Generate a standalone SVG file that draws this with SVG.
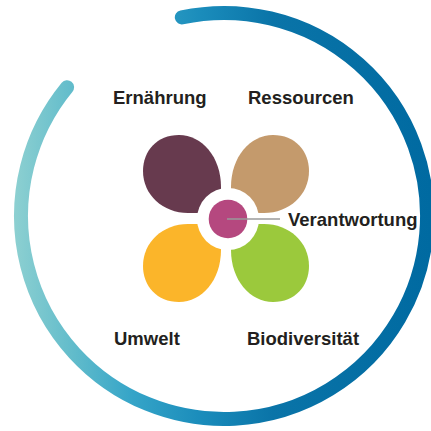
<svg xmlns="http://www.w3.org/2000/svg" width="431" height="431" viewBox="0 0 431 431">
  <defs>
    <linearGradient id="ringGrad" gradientUnits="userSpaceOnUse" x1="14" y1="216" x2="431" y2="216">
      <stop offset="0" stop-color="#8dd0d1"/>
      <stop offset="0.14" stop-color="#62bccb"/>
      <stop offset="0.28" stop-color="#36a5c8"/>
      <stop offset="0.45" stop-color="#1a8cbb"/>
      <stop offset="0.62" stop-color="#0a74a8"/>
      <stop offset="1" stop-color="#006aa1"/>
    </linearGradient>
    <path id="petal" d="M0,0 L0,-26 C0,-56 -19,-78 -42,-78 C-64,-78 -78,-62 -78,-42 C-78,-18 -58,0 -33,0 Z"/>
  </defs>
  <style>
    .label { font-family: "Liberation Sans", Arial, sans-serif; font-weight: bold; font-size: 18.5px; fill: #231f20; }
    .ring { fill: none; stroke: url(#ringGrad); stroke-width: 14; stroke-linecap: round; }
    .leader { stroke: #9a9a9a; stroke-width: 1.6; fill: none; }
  </style>
  <rect width="431" height="431" fill="#ffffff"/>
  <path class="ring" d="M181.8,17.4 A203,203 0 1 1 67.1,87.2"/>
  <g id="ernaehrung">
    <use href="#petal" transform="translate(221,213)" fill="#673a4e"/>
    <text class="label" x="113" y="104">Ernährung</text>
  </g>
  <g id="ressourcen">
    <use href="#petal" transform="translate(231,213) scale(-1,1)" fill="#c49a6c"/>
    <text class="label" x="248" y="104">Ressourcen</text>
  </g>
  <g id="umwelt">
    <use href="#petal" transform="translate(221,224) scale(1,-1)" fill="#fbb52a"/>
    <text class="label" x="114" y="345">Umwelt</text>
  </g>
  <g id="biodiversitaet">
    <use href="#petal" transform="translate(231,224) scale(-1,-1)" fill="#9bc93c"/>
    <text class="label" x="247" y="345">Biodiversität</text>
  </g>
  <g id="verantwortung">
    <circle cx="228" cy="219" r="31" fill="#ffffff"/>
    <circle cx="228" cy="219" r="19.3" fill="#b5487f"/>
    <text class="label" x="288" y="226">Verantwortung</text>
  </g>
  <g id="connectors">
    <line class="leader" x1="227" y1="219" x2="280" y2="219"/>
  </g>
</svg>
